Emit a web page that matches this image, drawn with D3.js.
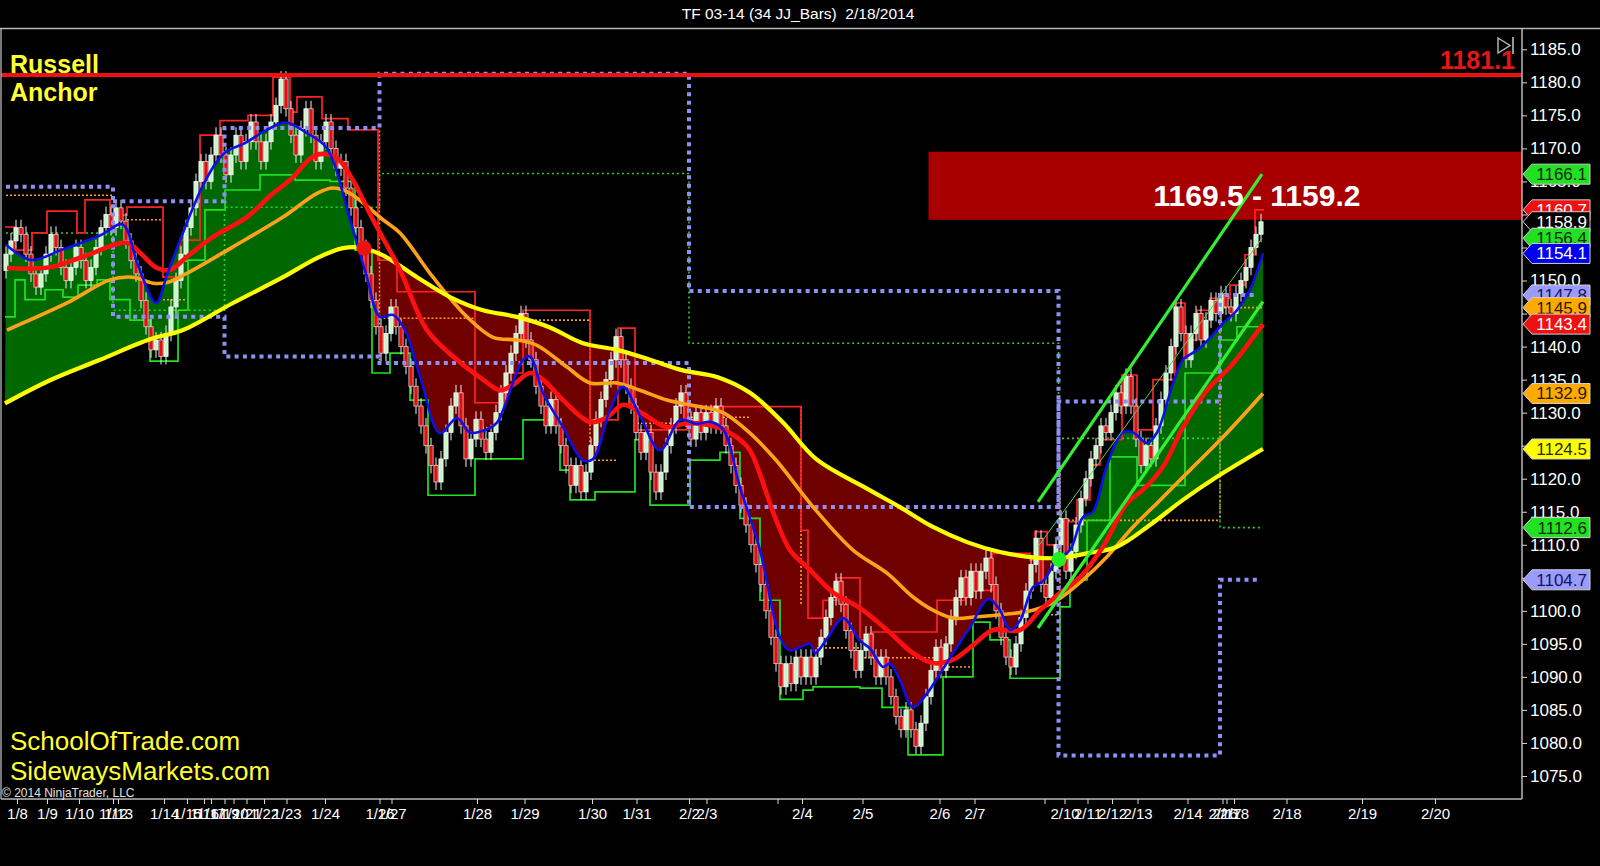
<!DOCTYPE html>
<html><head><meta charset="utf-8">
<script src="https://cdn.jsdelivr.net/npm/d3@7"></script>
<style>html,body{margin:0;padding:0;background:#000;overflow:hidden}svg{display:block}</style>
</head><body><svg id="c" width="1600" height="866"></svg>
<script>
// ---------------- DATA ----------------
const title = "TF 03-14 (34 JJ_Bars)  2/18/2014";
// closes of the 34-tick range bars (bar index = position)
const closes = [
1154,1156,1158,1157,1154,1151,1149,1151,1154,1157,
1155,1152,1150,1152,1155,1153,1150,1152,1155,1158,
1160,1158,1161,1159,1156,1153,
1151,1147,1143,1139.5,1141,1138.5,1142,1146,1150,1154,
1158,1161,1165,1168,1165,1169,1172,1169,1166,1169,
1172,1168,1171,1174,1171,1168,1171,1174,1176.5,1180.5,
1176,1172,1169,1173,1176,1172,1168,1171,1174,1170,
1167,1168,
1164,1161,1158,1155,1151,1147,1143,1139,1142,1146,
1143,1140,1137,1134,1131,1128,1125,1122,1119.5,1123,
1127,1131,1133,1128,1123,1126,1129,1126,1124,1127,
1130,1133,1136,1139,1142,1145,1141,1138,1134,1131,
1128,1132,1128,1125,1122,1119,1122,1118,1121,1125,
1129,1132,1135,1138,1141.5,1138,1134,1131,1127,1124,
1127,1121,1118,1121,1125,1128,1131,1133,1129,1126,
1130,1127,1130,1128,1131,1128,1125,1122,
1119,1116,1113,1110,1107,1104,1100,1096,1092,1088.5,
1092,1089,1093,1090,1093,1090,1093,1096,1099,1102,
1104.5,1101,1097,1094,1091,1094,1096.5,1093,1090,1093,
1090,1087,1084,1082,1085,1082,1079.5,1083,1087,1091,
1094.5,1091,1095,1099,1102,1105,1102,1106,1103,1106,
1108,1104,1100,1096,1093,1091.5,1095,1099,1103,1107,
1111,1104,1102,1106,1110,1114,1106,1109,1113,1117,
1120,1123,1125,1128,1127,1130,1133,1131,1135.5,1131,
1126,1122,1125,1123,1128,1132,1136,1140,1146,1142,
1138,1142,1145,1141,1144,1147,1145,1148,1146,1145,
1148,1150,1152,1155,1157,1158.9
];
// moving averages [barIndex, price]
const blueMA = [[0,1155.4],[5,1153.1],[11,1154.6],[19,1156.9],[23.3,1158.5],[26.4,1152.3],[30,1146.6],[32.5,1151.5],[39.6,1164.7],[43.7,1169.3],[47.8,1170.8],[51.9,1172.7],[56,1173.9],[60,1172.4],[64.1,1170.1],[68.8,1159.2],[72,1151],[74.8,1144.5],[77.4,1144.8],[79.8,1142.5],[83,1135],[86.8,1126.9],[90.2,1129.2],[92.8,1127],[96.2,1127.5],[98.2,1128.5],[103.4,1138],[104.8,1138.5],[107.4,1133],[111.4,1127.8],[115.4,1122.8],[117.4,1123],[120.8,1130.4],[123.4,1133.9],[126.8,1129.5],[130.8,1124.3],[134.8,1128.9],[138.2,1128.3],[140.8,1128.6],[143.4,1127.5],[146.8,1118.7],[150.8,1109.2],[154.8,1096],[156.8,1094],[160.8,1095],[161.8,1093.6],[164.4,1096],[167.4,1098.9],[170.8,1095.5],[172.8,1094.3],[175.4,1091.5],[176.8,1092],[178.8,1089.5],[181.4,1085.4],[184.2,1087.5],[185.4,1088.8],[189.4,1093.6],[192.8,1097.5],[196.5,1101.8],[198.8,1100.1],[200.8,1097.1],[202.8,1098.5],[205.4,1103.6],[207.4,1104.5],[210.2,1107.7],[212.8,1109.2],[215.4,1114.2],[217.4,1115],[220.2,1122],[223.4,1127],[225.4,1127],[228.2,1125.4],[230.2,1127],[233.4,1134.4],[235.4,1138],[236.8,1138.8],[238.8,1139.8],[240.8,1141.3],[243.4,1143.5],[246.2,1145.5],[248.8,1148.6],[251.4,1154.1]];
const redMA = [[0.2,1151.9],[8.8,1152],[15.4,1153.6],[24.2,1155.7],[26.8,1154.2],[30.2,1151.9],[32.8,1151.6],[36.2,1153.6],[41.4,1156.6],[48.2,1159.6],[53.4,1163.2],[56.8,1165.2],[62,1169],[66.2,1168.5],[69.2,1165.4],[73.4,1159.2],[78.8,1151.6],[84.2,1142.5],[90.2,1138],[95.4,1135],[98.8,1133.4],[101.4,1134.2],[104.8,1136],[107.4,1135],[111.4,1131.9],[116.8,1128.6],[120.2,1129.3],[123.4,1131.2],[126.8,1130.1],[132.2,1127.8],[136.2,1128.4],[142.2,1127.8],[146.8,1125.9],[148.8,1124.3],[153.9,1114],[156.8,1109.2],[160.8,1106.2],[165.4,1102.8],[170.8,1100.4],[176.2,1097.1],[181.4,1093.6],[185.4,1092.1],[189.4,1092.6],[193.4,1094.8],[197.4,1097.1],[202.8,1097.1],[206.8,1100.1],[210.8,1102.7],[214.8,1105.1],[219.4,1109.7],[224.2,1116.3],[227.4,1118.3],[231.4,1121.8],[235.4,1127.8],[240.2,1133.4],[244.8,1136.9],[251.4,1143.4]];
const orangeMA = [[0.2,1142.5],[12.2,1146.6],[20.8,1150.1],[25.4,1150.5],[29.4,1149.6],[32.2,1149.7],[36.2,1151.1],[45.4,1155.1],[55.4,1159.6],[62.2,1163.2],[65.4,1164],[68.8,1163.2],[75.4,1159.2],[78.8,1157.2],[85.4,1150.5],[92.2,1144.5],[97.4,1141.4],[102.2,1141],[106.2,1140.2],[112.2,1136.9],[116.8,1134.5],[122.2,1134.5],[126.8,1133.4],[132.2,1131.9],[138.8,1130.9],[143.4,1130],[148.8,1126.9],[153.9,1122.9],[162,1115.2],[169.4,1109.2],[176.2,1105.7],[181.4,1102.1],[185.4,1100.1],[189.4,1098.9],[194.2,1099.1],[198.8,1099.4],[205.4,1100.1],[210.2,1101.6],[215.4,1104.7],[220.2,1108.2],[225.4,1112.7],[230.2,1116.3],[236.8,1121.3],[243.4,1126.3],[251.4,1132.9]];
const yellowMA = [[-0.2,1131.4],[8.8,1134.9],[18.8,1138],[28.8,1141.1],[35.4,1142.5],[45.4,1146.6],[55.4,1150.5],[62.2,1153.4],[67.4,1154.9],[70.8,1155],[75.4,1153.8],[82.2,1150.5],[88.8,1147.5],[95.4,1145.5],[102.2,1144.5],[108.8,1142.9],[115.4,1140.5],[122.2,1139.5],[128.8,1138],[135.4,1136.4],[142.2,1135.4],[148.8,1133],[155.4,1128.5],[162,1123],[172.2,1118.5],[178.8,1115.7],[185.4,1112.7],[192.2,1110.4],[198.8,1108.9],[205.4,1108.1],[210.8,1108],[216.2,1108.7],[222.2,1109.7],[228.8,1113],[235.4,1116.8],[242.2,1120.3],[251.4,1124.5]];
// channel steps [barIndex, price]
const highStep = [[-0.2,1158.1],[1.8,1154.6],[5.2,1157.2],[8.2,1160.5],[14.2,1157.2],[15.8,1162.2],[20.8,1159.9],[24.2,1161.1],[31.4,1150.5],[34.8,1156.1],[38.8,1172],[42.8,1174.2],[48.4,1175],[53.4,1180.8],[56.8,1175.5],[58.2,1177.8],[63.2,1174.5],[68.4,1172.8],[74.4,1153.1],[78.2,1148.3],[93.8,1131.5],[99.8,1136],[103.4,1145.5],[116.8,1128.9],[122.4,1142.8],[125.8,1127.4],[136.2,1130.9],[159,1112.2],[160.4,1098.9],[163.4,1101.6],[166.2,1105],[170.8,1095.6],[173.4,1096.8],[186.2,1101.6],[191.8,1105.1],[193.4,1103.1],[197.2,1108.7],[204.8,1107.7],[205.8,1112],[208.2,1110],[210.8,1113.5],[214.2,1116.8],[216.8,1122.1],[218.8,1125.9],[223.2,1135.7],[226.2,1127.4],[229.4,1135],[233.8,1146.6],[235.8,1141],[238.2,1145.5],[240.8,1147.3],[244.8,1149.3],[247.8,1153.9],[249.8,1160.7],[251.6,1160.7]];
const lowStep = [[-0.2,1144.5],[1.8,1150.1],[3.8,1147.1],[7.8,1148.6],[11.4,1147.5],[14.4,1149.3],[18.2,1150.1],[20.8,1147.1],[24.8,1144],[28.8,1137.8],[34.4,1145.5],[36.4,1153.1],[39.8,1160.7],[43.8,1163.7],[50.8,1166],[57.8,1165.2],[64.8,1165],[69.8,1154.6],[73.2,1136],[76.8,1139],[80.8,1131.9],[84.4,1117.5],[93.8,1123],[103.4,1128.9],[110.8,1121.3],[112.8,1116.8],[117.8,1118],[125.8,1125.9],[128.8,1116],[136.8,1122.8],[142.8,1124],[146.8,1114],[150.8,1101.6],[154.8,1086.6],[159.4,1088],[161.4,1088.5],[170.8,1088.3],[175.2,1085.4],[180.4,1078.2],[187.4,1090],[193.4,1098.3],[196.8,1095.6],[200.8,1089.8],[210.8,1100.6],[212.8,1104.7],[216.2,1113.7],[220.8,1123.3],[226.2,1119],[235.8,1136],[242.8,1141],[246.2,1143],[251.6,1143]];
// weekly levels (lavender dotted) and weekly close (green dotted)
const weekLevelA = [[0,1164.2],[21.4,1144.5],[43.7,1138.5],[74.7,1137.5],[136.6,1115.7],[210.5,1131.7],[242.8,1147.8],[250.3,1147.8]];
const weekLevelB = [[21.4,1162.0],[43.7,1173.1],[74.7,1181.3],[136.6,1148.4],[210.5,1078.1],[242.8,1104.7],[250.3,1104.7]];
const weekClose = [[0,1157.2],[21.4,1145.5],[43.7,1161.1],[74.7,1166.2],[136.6,1140.5],[210.5,1126.1],[242.8,1112.6],[251.4,1112.6]];
// daily levels (orange dotted): [fromIndex, toIndex, price]
const dayLevels = [[0,21.4,1162.9],[24.2,31.4,1159.2],[31.4,36.2,1147.1],[74.7,93.6,1144.3],[93.6,96.8,1127.7],[103.4,116.8,1144],[116.8,122.4,1122.8],[126.2,136.2,1128.4],[136.2,148.8,1129.3],[162.2,170.8,1094.4],[170.8,186.8,1092.9],[186.8,193.4,1091.5],[208.2,210.8,1099.4],[210.8,242.8,1113.7],[242.8,251.4,1145.9]];
const dayBreaks = [[74.7,1172.7,1137],[116.8,1144,1122.8],[159,1131,1101],[210.8,1122,1099.4],[242.8,1145.9,1113.7]];
// regression channel [barIndex, price]
const chanUpper = [[206.4,1116.5],[251.2,1166.1]];
const chanMid = [[206.4,1109.7],[251.2,1156.4]];
const chanLower = [[206.4,1097.4],[251.4,1146.8]];
const crossDown = [71.6,1154.9];
const crossUp = [210.6,1107.8];
const anchorLevel = 1181.1;
const zoneTop = 1169.5, zoneBottom = 1159.2, zoneStart = 184.5;
const zoneText = "1169.5 - 1159.2";
// axes
const yTicks = [1075,1080,1085,1090,1095,1100,1105,1110,1115,1120,1125,1130,1135,1140,1145,1150,1155,1160,1165,1170,1175,1180,1185];
const xTickIdx = [2.2,8.2,14.6,21.4,22.4,31.6,36.2,39.6,41,43.7,45.5,48.1,51.6,56.1,63.8,74.7,77.1,94.2,103.7,117.2,126.1,136.6,140.1,154.3,159.2,171.3,186.7,193.7,207.7,211.7,216.3,221.2,226.3,236.3,243.3,244.1,245.6,256.1,271.2,285.8];
const xTickLabels = ["1/8","1/9","1/10","1/12","1/13","1/14","1/15","1/16","1/17","1/19","1/20","1/21","1/22","1/23","1/24","1/26","1/27","1/28","1/29","1/30","1/31","2/2","2/3","","2/4","2/5","2/6","2/7","","2/10","2/11","2/12","2/13","2/14","2/16","2/17","2/18","2/18","2/19","2/20"];
// right-hand price markers
const markerValues = [1166.1,1160.7,1158.9,1156.4,1154.1,1147.8,1145.9,1143.4,1132.9,1124.5,1112.6,1104.7];
const markerFill = ["#22e022","#ee1111","#000000","#22e022","#0000ee","#9a9aff","#ffaa00","#ee1111","#ffaa00","#ffff00","#22e022","#9a9aff"];
const markerInk  = ["#0a2a0a","#ffffff","#ffffff","#0a2a0a","#ffffff","#14145a","#2a1a00","#ffffff","#2a1a00","#2a2a00","#0a2a0a","#14145a"];

// ---------------- DRAW ----------------
const FONT = "'Liberation Sans', Arial, Helvetica, sans-serif";
const L = 1, R = 1522, T = 29, B = 799;
const x = d3.scaleLinear().domain([0, 303.2]).range([6, R]);
const y = d3.scaleLinear().domain([1075, 1185]).range([776, 49.3]);

const svg = d3.select("#c");
svg.append("rect").attr("width",1600).attr("height",866).attr("fill","#000");
const defs = svg.append("defs");
defs.append("clipPath").attr("id","plotClip").append("rect").attr("x",L).attr("y",T).attr("width",R-L).attr("height",B-T);
const g = svg.append("g").attr("clip-path","url(#plotClip)");

const smooth = d3.line().x(d=>x(d[0])).y(d=>y(d[1])).curve(d3.curveCatmullRom.alpha(0.5));
const straight = d3.line().x(d=>x(d[0])).y(d=>y(d[1]));
const step = d3.line().x(d=>x(d[0])).y(d=>y(d[1])).curve(d3.curveStepAfter);

// zone
g.append("rect").attr("x",x(zoneStart)).attr("y",y(zoneTop)).attr("width",R-x(zoneStart)).attr("height",y(zoneBottom)-y(zoneTop)).attr("fill","#a80000");

// fill between fast (blue) and slow (yellow)
const yl = smooth(yellowMA);
const yf = yellowMA[0], yLast = yellowMA[yellowMA.length-1];
defs.append("clipPath").attr("id","aboveY").append("path").attr("d", yl + `L${x(yLast[0])},0L${x(yf[0])},0Z`);
defs.append("clipPath").attr("id","belowY").append("path").attr("d", yl + `L${x(yLast[0])},866L${x(yf[0])},866Z`);
const band = smooth(blueMA) + smooth(yellowMA.slice().reverse()).replace(/^M/,"L") + "Z";
g.append("path").attr("d",band).attr("fill","#006800").attr("clip-path","url(#aboveY)");
g.append("path").attr("d",band).attr("fill","#6e0000").attr("clip-path","url(#belowY)");

// orange dotted daily levels
g.selectAll("line.dl").data(dayLevels).join("line").attr("class","dl")
  .attr("x1",d=>x(d[0])).attr("x2",d=>x(d[1])).attr("y1",d=>y(d[2])).attr("y2",d=>y(d[2]))
  .attr("stroke","#ff9a2a").attr("stroke-width",1.6).attr("stroke-dasharray","2,2");
g.selectAll("line.db").data(dayBreaks).join("line").attr("class","db")
  .attr("x1",d=>x(d[0])).attr("x2",d=>x(d[0])).attr("y1",d=>y(d[1])).attr("y2",d=>y(d[2]))
  .attr("stroke","#ff9a2a").attr("stroke-width",1.6).attr("stroke-dasharray","2,2");
// green dotted weekly close
g.append("path").attr("d",step(weekClose)).attr("fill","none").attr("stroke","#2fcf2f").attr("stroke-width",1.6).attr("stroke-dasharray","2,3");

// channel steps
g.append("path").attr("d",step(highStep)).attr("fill","none").attr("stroke","#ff2222").attr("stroke-width",1.7);
g.append("path").attr("d",step(lowStep)).attr("fill","none").attr("stroke","#22e022").attr("stroke-width",1.7);

// bars
const bars = closes.map((c,i)=>({i, o: i ? closes[i-1] : c-2.5, c}));
g.selectAll("line.wick").data(bars).join("line").attr("class","wick")
  .attr("x1",d=>x(d.i)).attr("x2",d=>x(d.i))
  .attr("y1",d=>y(Math.max(d.o,d.c)+1.2)).attr("y2",d=>y(Math.min(d.o,d.c)-1.2))
  .attr("stroke","#f2f2f2").attr("stroke-width",1);
g.selectAll("rect.bar").data(bars).join("rect").attr("class","bar")
  .attr("x",d=>x(d.i)-2.1).attr("width",4.2)
  .attr("y",d=>y(Math.max(d.o,d.c)))
  .attr("height",d=>Math.max(3,y(Math.min(d.o,d.c))-y(Math.max(d.o,d.c))))
  .attr("fill",d=>d.c>=d.o ? "#cdf3cd" : "#e01010")
  .attr("stroke",d=>d.c>=d.o ? "#ffffff" : "#f0e0e0").attr("stroke-width",0.7);

// weekly lavender dotted
[weekLevelA, weekLevelB].forEach(s=>{
  g.append("path").attr("d",step(s)).attr("fill","none").attr("stroke","#8f8ff5").attr("stroke-width",4).attr("stroke-dasharray","4,4.3");
});

// moving averages
g.append("path").attr("d",smooth(orangeMA)).attr("fill","none").attr("stroke","#ffa21a").attr("stroke-width",3.6);
g.append("path").attr("d",smooth(yellowMA)).attr("fill","none").attr("stroke","#ffff00").attr("stroke-width",4.2);
g.append("path").attr("d",smooth(redMA)).attr("fill","none").attr("stroke","#ff1010").attr("stroke-width",4.6);
g.append("path").attr("d",smooth(blueMA)).attr("fill","none").attr("stroke","#1010e6").attr("stroke-width",2.6);

// regression channel
g.append("path").attr("d",straight(chanMid)).attr("stroke","#55d055").attr("stroke-width",1).attr("fill","none");
[chanUpper, chanLower].forEach(s=>g.append("path").attr("d",straight(s)).attr("stroke","#33ee33").attr("stroke-width",3.2).attr("fill","none"));

// cross dots
g.append("circle").attr("cx",x(crossDown[0])).attr("cy",y(crossDown[1])).attr("r",7.5).attr("fill","#ee1111");
g.append("circle").attr("cx",x(crossUp[0])).attr("cy",y(crossUp[1])).attr("r",7.5).attr("fill","#22ee22");

// anchor line
g.append("line").attr("x1",L).attr("x2",R).attr("y1",y(anchorLevel)).attr("y2",y(anchorLevel)).attr("stroke","#ee1111").attr("stroke-width",4);

// frame
svg.append("line").attr("x1",0).attr("x2",1600).attr("y1",T-0.5).attr("y2",T-0.5).attr("stroke","#b8b8b8").attr("stroke-width",1.3);
svg.append("line").attr("x1",L).attr("x2",L).attr("y1",T).attr("y2",B).attr("stroke","#b8b8b8").attr("stroke-width",1.3);
svg.append("line").attr("x1",L).attr("x2",R).attr("y1",B).attr("y2",B).attr("stroke","#b8b8b8").attr("stroke-width",1.5);
svg.append("line").attr("x1",R).attr("x2",R).attr("y1",T).attr("y2",B).attr("stroke","#b8b8b8").attr("stroke-width",1.5);

// y axis
const yAxis = svg.append("g").attr("transform",`translate(${R},0)`)
  .call(d3.axisRight(y).tickValues(yTicks).tickFormat(d3.format(".1f")).tickSize(5).tickPadding(3));
yAxis.select(".domain").remove();
yAxis.selectAll("line").attr("stroke","#d8d8d8");
yAxis.selectAll("text").attr("fill","#ffffff").attr("font-size",17).attr("font-family",FONT);

// x axis
const xAxis = svg.append("g").attr("transform",`translate(0,${B})`)
  .call(d3.axisBottom(x).tickValues(xTickIdx).tickFormat((d,i)=>xTickLabels[i]).tickSize(5).tickPadding(4));
xAxis.select(".domain").remove();
xAxis.selectAll("line").attr("stroke","#d8d8d8");
xAxis.selectAll("text").attr("fill","#ffffff").attr("font-size",15).attr("font-family",FONT);

// price markers
const mk = svg.append("g");
markerValues.forEach((v,i)=>{
  const yc = y(v);
  mk.append("path").attr("d",`M${R+1},${yc}L${R+10},${yc-10}L1590,${yc-10}L1590,${yc+10}L${R+10},${yc+10}Z`)
    .attr("fill",markerFill[i]).attr("stroke","#d0d0d0").attr("stroke-width",1);
  mk.append("text").attr("x",1587).attr("y",yc+6).attr("text-anchor","end").attr("font-size",17).attr("font-family",FONT)
    .attr("fill",markerInk[i]).text(d3.format(".1f")(v));
});

// texts
svg.append("text").attr("x",798).attr("y",19).attr("text-anchor","middle").attr("fill","#ffffff").attr("font-size",15.5).attr("font-family",FONT).style("white-space","pre").attr("xml:space","preserve").text(title);
svg.append("text").attr("x",10).attr("y",73).attr("fill","#ffff33").attr("font-size",25).attr("font-weight","bold").attr("font-family",FONT).text("Russell");
svg.append("text").attr("x",10).attr("y",101).attr("fill","#ffff33").attr("font-size",25).attr("font-weight","bold").attr("font-family",FONT).text("Anchor");
svg.append("text").attr("x",1515).attr("y",69).attr("text-anchor","end").attr("fill","#e81515").attr("font-size",25).attr("font-weight","bold").attr("font-family",FONT).text(d3.format(".1f")(anchorLevel));
svg.append("text").attr("x",1257).attr("y",206).attr("text-anchor","middle").attr("fill","#ffffff").attr("font-size",30).attr("font-weight","bold").attr("font-family",FONT).text(zoneText);
svg.append("text").attr("x",10).attr("y",750).attr("fill","#ffff33").attr("font-size",26).attr("font-family",FONT).text("SchoolOfTrade.com");
svg.append("text").attr("x",10).attr("y",780).attr("fill","#ffff33").attr("font-size",26).attr("font-family",FONT).text("SidewaysMarkets.com");
svg.append("text").attr("x",2).attr("y",797).attr("fill","#e0e0e0").attr("font-size",12).attr("font-family","'Liberation Sans Narrow', 'Arial Narrow', "+FONT).text("© 2014 NinjaTrader, LLC");
// scroll-to-end icon
svg.append("path").attr("d","M1498,38L1510,45.5L1498,53Z").attr("fill","none").attr("stroke","#bbbbbb").attr("stroke-width",1.4);
svg.append("line").attr("x1",1513).attr("x2",1513).attr("y1",37).attr("y2",54).attr("stroke","#bbbbbb").attr("stroke-width",1.6);
</script></body></html>
